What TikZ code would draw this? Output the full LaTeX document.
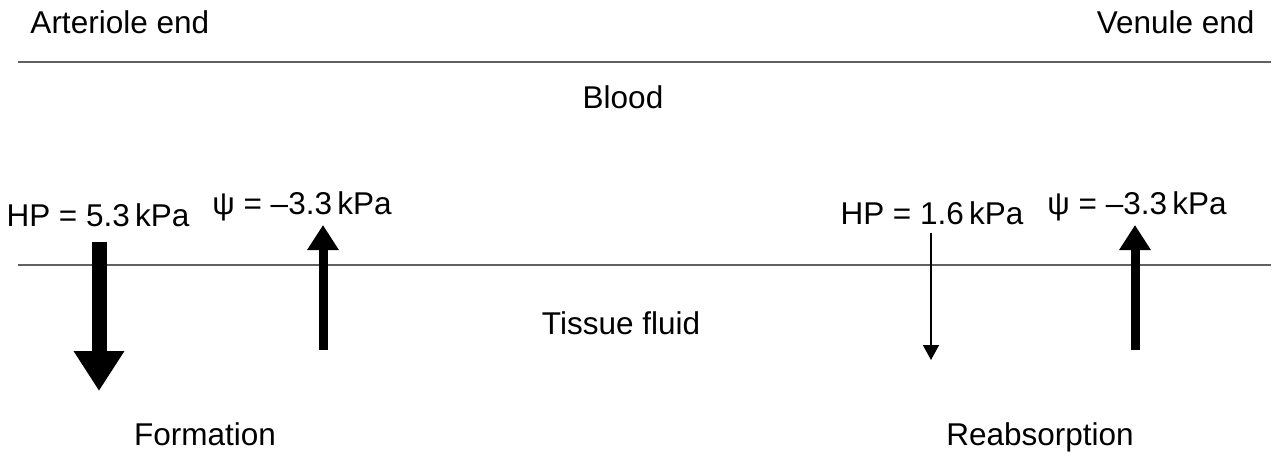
\documentclass[tikz,border=0pt]{standalone}
\usepackage{fontspec}
\setmainfont{Liberation Sans}
\usetikzlibrary{arrows.meta}

\begin{document}
\begin{tikzpicture}[x=0.4pt, y=-0.4pt, font=\fontsize{12.6}{15}\selectfont,
    every node/.style={inner sep=0pt},
    wall/.style={draw=black!62, line width=0.6pt},
    bigflow/.style={line width=6pt, -{Triangle[length=16pt, width=19.2pt]}},
    midflow/.style={line width=3.6pt, -{Triangle[length=10pt, width=12pt]}},
    smallflow/.style={line width=0.6pt, -{Triangle[length=6pt, width=6.4pt]}}]
    \useasboundingbox (0,0) rectangle (1281,453);

    % 毛细血管壁 (上下两条线)
    \draw[wall] (18,62) -- (1271,62);
    \draw[wall] (18,265) -- (1271,265);

    % 两端与区域名称
    \node[anchor=west] (art) at (30,22) {Arteriole end};
    \node[anchor=east] (ven) at (1255,22) {Venule end};
    \node (blood) at (623,97) {Blood};
    \node (tissue) at (621,323) {Tissue fluid};

    % 压力标注
    \node (hpa) at (98,215) {HP = 5.3\,kPa};
    \node (psia) at (302,206) {ψ = –3.3\,kPa};
    \node (hpv) at (932,213) {HP = 1.6\,kPa};
    \node (psiv) at (1137,206) {ψ = –3.3\,kPa};

    % 箭头端点
    \coordinate (a1) at (99,242);
    \coordinate (a2) at (99,391);
    \coordinate (b1) at (323,350);
    \coordinate (b2) at (323,225);
    \coordinate (c1) at (931,233);
    \coordinate (c2) at (931,360);
    \coordinate (d1) at (1135,350);
    \coordinate (d2) at (1135,225);

    % 箭头
    \draw[bigflow] (a1) -- (a2);
    \draw[midflow] (b1) -- (b2);
    \draw[smallflow] (c1) -- (c2);
    \draw[midflow] (d1) -- (d2);

    % 结果
    \node[anchor=base] (form) at (205,445) {Formation};
    \node[anchor=base] (reab) at (1040,445) {Reabsorption};
\end{tikzpicture}
\end{document}
